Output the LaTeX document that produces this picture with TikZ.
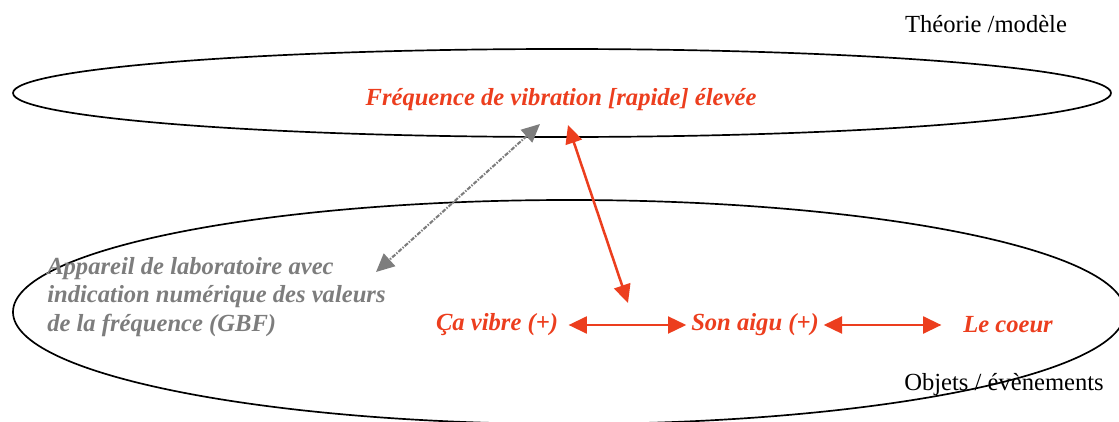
\documentclass[tikz,border=0pt]{standalone}
\usepackage{fontspec}
\setmainfont{Liberation Serif}
\usetikzlibrary{arrows.meta}

\definecolor{rouge}{RGB}{236,62,30}
\definecolor{gris}{RGB}{125,125,125}

\tikzset{
    texte/.style={font=\fontsize{17.5}{20.3}\selectfont},
    rtexte/.style={texte, text=rouge, font=\fontsize{17.5}{20.3}\selectfont\bfseries\itshape},
    flecherouge/.style={rouge, line width=1.8pt, {Triangle[length=13pt,width=12pt]}-{Triangle[length=13pt,width=12pt]}},
    flechegrise/.style={gris, line width=1.5pt, dash pattern=on 3pt off 1pt on 1pt off 1pt, {Triangle[length=13pt,width=12pt]}-{Triangle[length=13pt,width=12pt]}}
}

\begin{document}
\begin{tikzpicture}
    \useasboundingbox (0,0) rectangle (27.975,10.525);

    %Ellipses
    \draw[line width=1.2pt] (14.05,8.2) ellipse [x radius=13.725, y radius=1.1];
    \draw[line width=1.2pt] (14.225,2.725) ellipse [x radius=13.9, y radius=2.8];

    %Textes
    \node[texte] (theorie) at (24.65,9.925) {Théorie /modèle};
    \node[texte] (objets) at (25.1,0.9) {Objets / évènements};
    \node[rtexte] (freq) at (14.025,8.025) {Fréquence de vibration [rapide] élevée};
    \node[rtexte] (vibre) at (12.425,2.4) {Ça vibre (+)};
    \node[rtexte] (aigu) at (18.875,2.4) {Son aigu (+)};
    \node[rtexte] (coeur) at (25.2,2.4) {Le coeur};
    \node[texte, text=gris, font=\fontsize{17.5}{20.3}\selectfont\bfseries\itshape,
          align=left, anchor=west, inner sep=0pt] (appareil) at (1.175,3.1)
          {Appareil de laboratoire avec\\indication numérique des valeurs\\de la fréquence (GBF)};

    %Fleches
    \coordinate (fhaut) at (14.2,7.4);
    \coordinate (fbas) at (15.7,2.95);
    \coordinate (ghaut) at (13.5,7.425);
    \coordinate (gbas) at (9.4,3.725);
    \draw[flecherouge] (fhaut) -- (fbas);
    \draw[flechegrise] (ghaut) -- (gbas);
    \draw[flecherouge, shorten <=4pt] (vibre) -- (aigu);
    \draw[flecherouge, shorten >=12pt] (aigu) -- (coeur);
\end{tikzpicture}
\end{document}
